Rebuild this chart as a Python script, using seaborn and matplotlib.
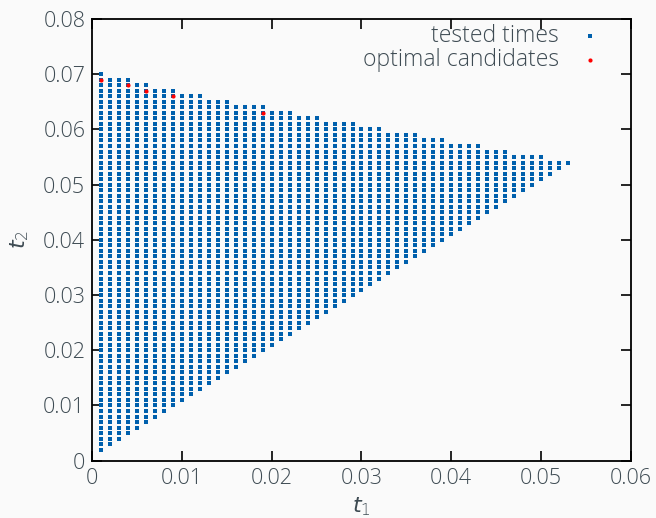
import numpy as np
import pandas as pd
import seaborn as sns
import matplotlib.pyplot as plt
from matplotlib.ticker import FuncFormatter

# tested grid, one column per t1 value: t2 runs from low to high
t1_cols = [0.001, 0.002, 0.003, 0.004, 0.005, 0.006, 0.007, 0.008, 0.009, 0.010,
           0.011, 0.012, 0.013, 0.014, 0.015, 0.016, 0.017, 0.018, 0.019, 0.020,
           0.021, 0.022, 0.023, 0.024, 0.025, 0.026, 0.027, 0.028, 0.029, 0.030,
           0.031, 0.032, 0.033, 0.034, 0.035, 0.036, 0.037, 0.038, 0.039, 0.040,
           0.041, 0.042, 0.043, 0.044, 0.045, 0.046, 0.047, 0.048, 0.049, 0.050,
           0.051, 0.052, 0.053]
t2_low = [0.002, 0.003, 0.004, 0.005, 0.006, 0.007, 0.008, 0.009, 0.010, 0.011,
          0.012, 0.013, 0.014, 0.015, 0.016, 0.017, 0.018, 0.019, 0.020, 0.021,
          0.022, 0.023, 0.024, 0.025, 0.026, 0.027, 0.028, 0.029, 0.030, 0.031,
          0.032, 0.033, 0.034, 0.035, 0.036, 0.037, 0.038, 0.039, 0.040, 0.041,
          0.042, 0.043, 0.044, 0.045, 0.046, 0.047, 0.048, 0.049, 0.050, 0.051,
          0.052, 0.053, 0.054]
t2_high = [0.070, 0.069, 0.069, 0.069, 0.068, 0.068, 0.067, 0.067, 0.067, 0.066,
           0.066, 0.066, 0.065, 0.065, 0.065, 0.064, 0.064, 0.064, 0.064, 0.063,
           0.063, 0.063, 0.062, 0.062, 0.062, 0.061, 0.061, 0.061, 0.061, 0.060,
           0.060, 0.060, 0.059, 0.059, 0.059, 0.059, 0.058, 0.058, 0.058, 0.057,
           0.057, 0.057, 0.057, 0.056, 0.056, 0.056, 0.055, 0.055, 0.055, 0.055,
           0.054, 0.054, 0.054]
t2_step = 0.001

# optimal candidates
opt_t1 = [0.001, 0.004, 0.006, 0.009, 0.019]
opt_t2 = [0.069, 0.068, 0.067, 0.066, 0.063]

rows = []
for t1, lo, hi in zip(t1_cols, t2_low, t2_high):
    n = int(round((hi - lo) / t2_step)) + 1
    for t2 in np.linspace(lo, hi, n):
        rows.append((t1, t2))
tested = pd.DataFrame(rows, columns=['t1', 't2'])
optimal = pd.DataFrame({'t1': opt_t1, 't2': opt_t2})

text_col = '#3e4b53'
sns.set_style('ticks')
plt.rcParams['font.family'] = ['Open Sans', 'DejaVu Sans']
plt.rcParams['font.weight'] = 'light'
plt.rcParams['text.color'] = text_col
plt.rcParams['axes.labelcolor'] = text_col
plt.rcParams['xtick.color'] = 'black'
plt.rcParams['ytick.color'] = 'black'
plt.rcParams['xtick.labelcolor'] = text_col
plt.rcParams['ytick.labelcolor'] = text_col

fig = plt.figure(figsize=(6.56, 5.18), dpi=100, facecolor='#fafafa')
ax = fig.add_axes([0.1407, 0.1106, 0.8207, 0.8527])
ax.set_facecolor('#fafafa')

sns.scatterplot(data=tested, x='t1', y='t2', marker='s', s=12, color='#0060ad',
                linewidth=0, label='tested times', ax=ax)
sns.scatterplot(data=optimal, x='t1', y='t2', marker='o', s=9, color='#ff0000',
                linewidth=0, label='optimal candidates', ax=ax)

ax.set_xlim(0, 0.06)
ax.set_ylim(0, 0.08)
ax.set_xticks(np.arange(0, 0.0601, 0.01))
ax.set_yticks(np.arange(0, 0.0801, 0.01))
fmt = FuncFormatter(lambda v, p: f'{round(v, 3):g}')
ax.xaxis.set_major_formatter(fmt)
ax.yaxis.set_major_formatter(fmt)
ax.tick_params(direction='in', length=7, width=1.2, labelsize=15.5, pad=5,
               top=True, right=True)
for sp in ax.spines.values():
    sp.set_linewidth(1.3)
    sp.set_color('black')

ax.set_xlabel('$t_1$', fontsize=16, labelpad=5)
ax.set_ylabel('$t_2$', fontsize=16, labelpad=9)

ax.legend(loc='upper right', bbox_to_anchor=(0.98, 1.015), frameon=False,
          markerfirst=False, fontsize=16.5, handlelength=1.6, handletextpad=0.55,
          labelspacing=0.0, borderaxespad=0.1, markerscale=1.0)

fig.savefig('out.png', dpi=100, facecolor=fig.get_facecolor())
